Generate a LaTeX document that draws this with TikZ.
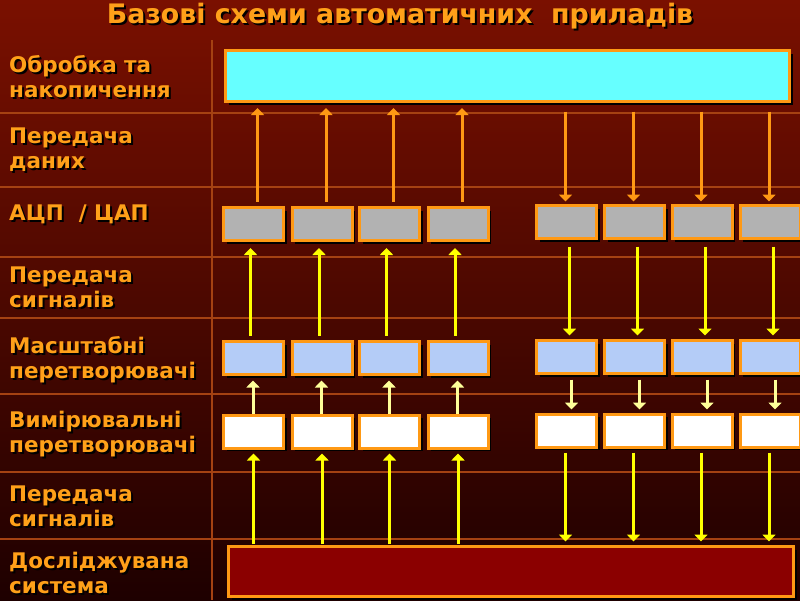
\documentclass[tikz,border=0pt]{standalone}
\usepackage{fontspec}
\setmainfont{DejaVu Sans}
\usetikzlibrary{arrows.meta,shadows}

\definecolor{bgtop}{RGB}{122,16,0}
\definecolor{bgbot}{RGB}{30,0,0}
\definecolor{gridline}{RGB}{165,66,18}
\definecolor{textor}{RGB}{255,160,25}
\definecolor{edgeor}{RGB}{255,153,20}
\definecolor{procyan}{RGB}{102,255,255}
\definecolor{adcgray}{RGB}{178,178,178}
\definecolor{sclblue}{RGB}{180,204,247}
\definecolor{objred}{RGB}{139,0,0}
\definecolor{sigyellow}{RGB}{255,255,0}
\definecolor{paleyellow}{RGB}{255,255,153}

% text with a black shadow
\newcommand\shd[1]{\leavevmode\rlap{\kern2pt\raisebox{-2pt}{\color{black}#1}}#1}

\begin{document}
\begin{tikzpicture}[x=1pt,y=-1pt,
    every node/.style={inner sep=0pt},
    lbl/.style={anchor=west, align=left, text=textor,
      font=\bfseries\fontsize{21.5}{25}\selectfont},
    grid/.style={draw=gridline, line width=2.5pt},
    blk/.style={draw=edgeor, line width=3pt, minimum width=60pt,
      minimum height=33pt,
      drop shadow={shadow xshift=3pt, shadow yshift=-3pt, opacity=1, fill=black}},
    tip/.style={-{Triangle[width=13pt,length=7pt]}, line width=3pt},
    datarr/.style={tip, draw=edgeor},
    sigarr/.style={tip, draw=sigyellow},
    palearr/.style={tip, draw=paleyellow}]

  \useasboundingbox (0,0) rectangle (800,600);
  \fill[top color=bgtop, bottom color=bgbot] (0,0) rectangle (800,600);

  % table lines
  \foreach \y in {113,187,257,318,394,472,539}
    \draw[grid] (0,\y) -- (800,\y);
  \draw[grid] (212,40) -- (212,600);

  \node[anchor=base, text=textor, font=\bfseries\fontsize{26.8}{30}\selectfont]
    (title) at (400,23) {\shd{Базові схеми автоматичних\ \ приладів}};

  % row labels
  \node[lbl] (l1) at (9,78) {\shd{Обробка та}\\\shd{накопичення}};
  \node[lbl] (l2) at (9,151) {\shd{Передача}\\\shd{даних}};
  \node[lbl] (l3) at (9,215) {\shd{АЦП\ \ / ЦАП}};
  \node[lbl] (l4) at (9,288) {\shd{Передача}\\\shd{сигналів}};
  \node[lbl] (l5) at (9,361) {\shd{Масштабні}\\\shd{перетворювачі}};
  \node[lbl] (l6) at (9,435) {\shd{Вимірювальні}\\\shd{перетворювачі}};
  \node[lbl] (l7) at (9,507) {\shd{Передача}\\\shd{сигналів}};
  \node[lbl] (l8) at (9,574) {\shd{Досліджувана}\\\shd{система}};

  % blocks
  \node[blk, fill=procyan, minimum width=564pt, minimum height=51pt] (proc) at (507.5,76) {};
  \node[blk, fill=objred, minimum width=565pt, minimum height=50pt] (obj) at (511,571.5) {};
  \foreach \n/\x in {1/253.5,2/322,3/389.5,4/458} {
    \node[blk, fill=adcgray] (adc\n) at (\x,224) {};
    \node[blk, fill=sclblue] (scl\n) at (\x,358) {};
    \node[blk, fill=white] (meas\n) at (\x,431.5) {};
  }
  \foreach \n/\x in {5/566.5,6/634.5,7/702,8/770} {
    \node[blk, fill=adcgray] (adc\n) at (\x,222) {};
    \node[blk, fill=sclblue] (scl\n) at (\x,357) {};
    \node[blk, fill=white] (meas\n) at (\x,430.5) {};
  }

  % input channels (up)
  \foreach \n in {1,...,4} {
    \draw[datarr, shorten <=4.5pt, shorten >=5pt]
      ([xshift=4pt]adc\n.north) -- ([xshift=4pt]adc\n.north |- proc.south);
    \draw[sigarr, shorten <=4.5pt, shorten >=6pt]
      ([xshift=-3pt]scl\n.north) -- ([xshift=-3pt]adc\n.south);
    \draw[palearr, shorten <=0pt, shorten >=4.5pt]
      ([xshift=-0.5pt]meas\n.north) -- ([xshift=-0.5pt]scl\n.south);
    \draw[sigarr, shorten <=1pt, shorten >=4pt]
      (meas\n.south |- obj.north) -- (meas\n.south);
  }
  % output channels (down)
  \foreach \n in {5,...,8} {
    \draw[datarr, shorten <=8.5pt, shorten >=2.5pt]
      ([xshift=-1pt]adc\n.north |- proc.south) -- ([xshift=-1pt]adc\n.north);
    \draw[sigarr, shorten <=6.5pt, shorten >=3.5pt]
      ([xshift=3pt]adc\n.south) -- ([xshift=3pt]scl\n.north);
    \draw[palearr, shorten <=4.5pt, shorten >=3pt]
      ([xshift=5pt]scl\n.south) -- ([xshift=5pt]meas\n.north);
    \draw[sigarr, shorten <=4pt, shorten >=3.5pt]
      ([xshift=-1pt]meas\n.south) -- ([xshift=-1pt]meas\n.south |- obj.north);
  }
\end{tikzpicture}
\end{document}
